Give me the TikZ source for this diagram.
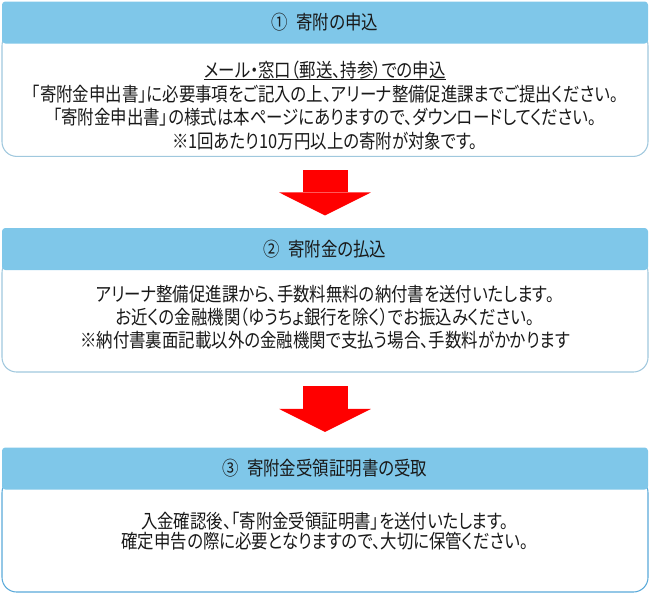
\documentclass[tikz,border=0pt]{standalone}
\usepackage{fontspec}
\newfontfamily\jpfont[FakeStretch=0.85,RawFeature=+palt]{Noto Sans CJK JP}
\usepackage{xcolor}
\usetikzlibrary{arrows.meta,calc}

\definecolor{hdrblue}{RGB}{127,199,233}
\definecolor{edgeblue}{RGB}{160,200,222}
\definecolor{edgeblueb}{RGB}{90,170,218}
\definecolor{txtgray}{RGB}{25,25,25}

\newcommand\jptext[1]{\jpfont\fontsize{14.5pt}{#1}\selectfont\lineskiplimit=-20pt\relax}
\newcommand\ulined[1]{\leavevmode\vtop{\hbox{#1}\kern0.2pt\hrule height 0.8pt}}

\tikzset{
  hdrbox/.style={fill=hdrblue, rounded corners=2.5pt, minimum width=484.5pt, minimum height=31.5pt, inner sep=0pt, text=txtgray, font=\jptext{16pt}},
  bodybox/.style={draw=edgeblue, line width=0.8pt, fill=white, rounded corners=11pt, minimum width=484.5pt, inner sep=0pt},
  bodytext/.style={align=center, inner sep=0pt, text=txtgray, font=\jptext{16.3pt}},
  flowarrow/.style={draw=red, line width=33.75pt, -{Triangle[length=17.25pt, width=68.8pt, line width=0pt]}}
}

\begin{document}
\begin{tikzpicture}[x=0.75pt,y=0.75pt,yscale=-1,xscale=1]
        \useasboundingbox (0,0) rectangle (650,593);

        % step 1
        \node (body1) [bodybox, minimum height=94pt] at (325,93.75) {};
        \node (hdr1) [hdrbox] at (325,22.5) {①\hspace{6pt}寄附の申込};
        \node (txt1) [bodytext] at (325,105.5) {\ulined{メール・窓口（郵送、持参）での申込}\\[1.6pt]
            「寄附金申出書」に必要事項をご記入の上、アリーナ整備促進課までご提出ください。\\[1.6pt]
            「寄附金申出書」の様式は本ページにありますので、ダウンロードしてください。\\[1.6pt]
            ※1回あたり10万円以上の寄附が対象です。};

        % step 2
        \node (body2) [bodybox, minimum height=85.5pt] at (325,315) {};
        \node (hdr2) [hdrbox] at (325,249) {②\hspace{6pt}寄附金の払込};
        \node (txt2) [bodytext, font=\jptext{16pt}] at (325,317) {アリーナ整備促進課から、手数料無料の納付書を送付いたします。\\[1.4pt]
            お近くの金融機関（ゆうちょ銀行を除く）でお振込みください。\\[1.4pt]
            ※納付書裏面記載以外の金融機関で支払う場合、手数料がかかります};

        % step 3
        \node (body3) [bodybox, draw=edgeblueb, minimum height=85.5pt] at (325,535) {};
        \node (hdr3) [hdrbox] at (325,468.5) {③\hspace{6pt}寄附金受領証明書の受取};
        \node (txt3) [bodytext, font=\jptext{15pt}] at (325,531.5) {入金確認後、「寄附金受領証明書」を送付いたします。\\
            確定申告の際に必要となりますので、大切に保管ください。};

        % arrows
        \draw [flowarrow] ($(body1.south)+(0,13.3)$) -- ($(hdr2.north)+(0,-12.3)$);
        \draw [flowarrow] ($(body2.south)+(0,13.7)$) -- ($(hdr3.north)+(0,-15.3)$);
\end{tikzpicture}
\end{document}
